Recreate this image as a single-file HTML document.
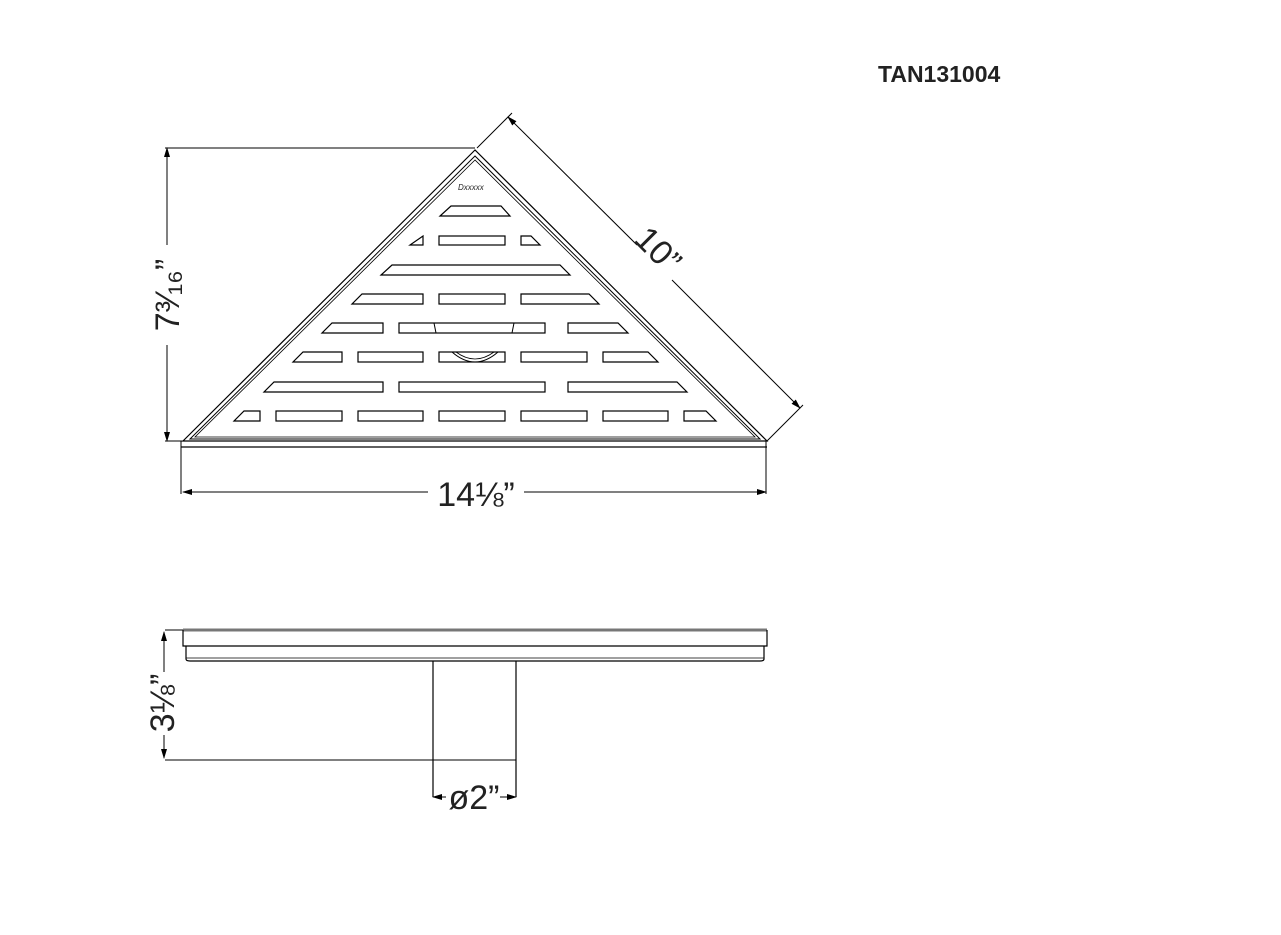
<!DOCTYPE html>
<html><head><meta charset="utf-8"><style>
html,body{margin:0;padding:0;background:#fff;width:1281px;height:935px;overflow:hidden}
svg{display:block}
.t{font-family:"Liberation Sans","DejaVu Sans",sans-serif;fill:#222;}
</style></head><body>
<svg width="1281" height="935" viewBox="0 0 1281 935" xmlns="http://www.w3.org/2000/svg">
<defs>
<marker id="a" markerWidth="10" markerHeight="6" refX="9" refY="3" orient="auto-start-reverse" markerUnits="userSpaceOnUse">
<path d="M0,0 L10,3 L0,6 z" fill="#000"/></marker>
</defs>
<text x="878" y="82" class="t" font-size="23" font-weight="bold" fill="#000">TAN131004</text>

<g fill="none" stroke="#000" stroke-width="1.2">
<path d="M475,150 L183,441 L767,441 Z"/>
<path d="M475,156 L190,439 L760,439 Z" stroke-width="1"/>
<path d="M475,160 L195,437 L755,437 Z" stroke-width="0.8"/>
<line x1="181" y1="447" x2="767" y2="447"/>
<line x1="181" y1="441" x2="181" y2="494" stroke-width="1"/>
<line x1="766" y1="441" x2="766" y2="494" stroke-width="1"/>
<line x1="183" y1="492" x2="428" y2="492" stroke-width="1" marker-start="url(#a)"/>
<line x1="524" y1="492" x2="766" y2="492" stroke-width="1" marker-end="url(#a)"/>

<line x1="165" y1="148" x2="475" y2="148" stroke-width="1"/>
<line x1="165" y1="441" x2="183" y2="441" stroke-width="1"/>
<line x1="167" y1="148" x2="167" y2="245" stroke-width="1" marker-start="url(#a)"/>
<line x1="167" y1="345" x2="167" y2="441" stroke-width="1" marker-end="url(#a)"/>

<line x1="477" y1="148" x2="512" y2="113" stroke-width="1"/>
<line x1="767" y1="441" x2="803" y2="405" stroke-width="1"/>
<line x1="508" y1="117" x2="637" y2="245" stroke-width="1" marker-start="url(#a)"/>
<line x1="672" y1="280" x2="800" y2="408" stroke-width="1" marker-end="url(#a)"/>

<path d="M451,206 L501,206 L510,216 L440,216 Z"/>
<path d="M423,236 L423,245 L410,245 Z"/>
<rect x="439" y="236" width="66" height="9"/>
<path d="M521,236 L531,236 L540,245 L521,245 Z"/>
<path d="M392,265 L560,265 L570,275 L381,275 Z"/>
<path d="M362,294 L423,294 L423,304 L352,304 Z"/>
<rect x="439" y="294" width="66" height="10"/>
<path d="M521,294 L589,294 L599,304 L521,304 Z"/>
<path d="M332,323 L383,323 L383,333 L322,333 Z"/>
<rect x="399" y="323" width="146" height="10"/>
<path d="M568,323 L618,323 L628,333 L568,333 Z"/>
<path d="M303,352 L342,352 L342,362 L293,362 Z"/>
<rect x="358" y="352" width="65" height="10"/>
<rect x="439" y="352" width="66" height="10"/>
<rect x="521" y="352" width="66" height="10"/>
<path d="M603,352 L648,352 L658,362 L603,362 Z"/>
<path d="M274,382 L383,382 L383,392 L264,392 Z"/>
<rect x="399" y="382" width="146" height="10"/>
<path d="M568,382 L677,382 L687,392 L568,392 Z"/>
<path d="M244,411 L260,411 L260,421 L234,421 Z"/>
<rect x="276" y="411" width="66" height="10"/>
<rect x="358" y="411" width="65" height="10"/>
<rect x="439" y="411" width="66" height="10"/>
<rect x="521" y="411" width="66" height="10"/>
<rect x="603" y="411" width="65" height="10"/>
<path d="M684,411 L706,411 L716,421 L684,421 Z"/>
<path d="M452,352 Q475,372 498,352" stroke-width="1"/>
<path d="M456,352 Q475,366 494,352" stroke-width="0.8"/>
<path d="M434,323 L436,333 M514,323 L512,333" stroke-width="1"/>

<line x1="183" y1="630" x2="767" y2="630" stroke="#777" stroke-width="3"/>
<path d="M183,630 L183,646 L767,646 L767,630"/>
<path d="M186,646 L186,659 Q186,661 190,661 L760,661 Q764,661 764,659 L764,646"/>
<line x1="186" y1="658" x2="764" y2="658" stroke-width="0.8"/>
<path d="M433,661 L433,797 M516,661 L516,797"/>
<line x1="165" y1="760" x2="516" y2="760" stroke-width="1"/>
<line x1="165" y1="630" x2="183" y2="630" stroke-width="1"/>
<line x1="164" y1="632" x2="164" y2="672" stroke-width="1" marker-start="url(#a)"/>
<line x1="164" y1="735" x2="164" y2="758" stroke-width="1" marker-end="url(#a)"/>
<line x1="433" y1="797" x2="446" y2="797" stroke-width="1" marker-start="url(#a)"/>
<line x1="500" y1="797" x2="516" y2="797" stroke-width="1" marker-end="url(#a)"/>
</g>

<text x="458" y="190" class="t" font-size="8" font-style="italic">Dxxxxx</text>

<text x="476" y="506" class="t" font-size="34" text-anchor="middle" fill="#444">14⅛”</text>
<text transform="translate(179,295) rotate(-90)" class="t" font-size="34" text-anchor="middle" fill="#444">7³⁄₁₆”</text>
<text transform="translate(650,258) rotate(45)" class="t" font-size="34" text-anchor="middle" fill="#444">10”</text>
<text transform="translate(174,703) rotate(-90)" class="t" font-size="34" text-anchor="middle" fill="#444">3⅛”</text>
<text x="474" y="809" class="t" font-size="34" text-anchor="middle" fill="#444">ø2”</text>
</svg>
</body></html>
